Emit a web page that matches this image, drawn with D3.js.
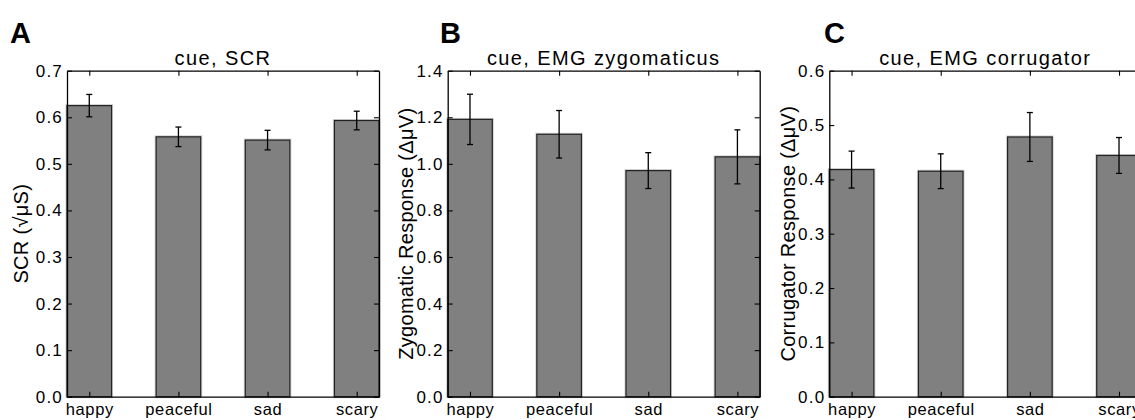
<!DOCTYPE html>
<html><head><meta charset="utf-8">
<script src="https://cdn.jsdelivr.net/npm/d3@7"></script>
<style>
html,body{margin:0;padding:0;background:#fff;overflow:hidden}
svg{display:block;font-family:"Liberation Sans",Arial,Helvetica,sans-serif}
</style></head>
<body>
<script>
// ---- data ----
const categories = ["happy", "peaceful", "sad", "scary"];
const scrMean = [0.625, 0.558, 0.551, 0.593];
const scrErr  = [0.024, 0.021, 0.021, 0.020];
const zygMean = [1.191, 1.127, 0.971, 1.030];
const zygErr  = [0.108, 0.102, 0.077, 0.116];
const corMean = [0.418, 0.415, 0.478, 0.444];
const corErr  = [0.034, 0.032, 0.045, 0.033];
const scrTicks = [0.0, 0.1, 0.2, 0.3, 0.4, 0.5, 0.6, 0.7];
const zygTicks = [0.0, 0.2, 0.4, 0.6, 0.8, 1.0, 1.2, 1.4];
const corTicks = [0.0, 0.1, 0.2, 0.3, 0.4, 0.5, 0.6];
const panelLetters = ["A", "B", "C"];
const titles = ["cue, SCR", "cue, EMG zygomaticus", "cue, EMG corrugator"];
const yLabels = ["SCR (\u221A\u03BCS)", "Zygomatic Response (\u0394\u03BCV)", "Corrugator Response (\u0394\u03BCV)"];

const panels = [
  {letter: panelLetters[0], title: titles[0], ylabel: yLabels[0], mean: scrMean, err: scrErr, ticks: scrTicks, ymax: 0.7, left: 67, labOff: 39, letterX: 10},
  {letter: panelLetters[1], title: titles[1], ylabel: yLabels[1], mean: zygMean, err: zygErr, ticks: zygTicks, ymax: 1.4, left: 447.7, labOff: 34.5, letterX: 440},
  {letter: panelLetters[2], title: titles[2], ylabel: yLabels[2], mean: corMean, err: corErr, ticks: corTicks, ymax: 0.6, left: 829.3, labOff: 34.5, letterX: 824}
];

const W = 1135, H = 420;
const plotTop = 70.7, plotBottom = 396.7, plotW = 312;
const svg = d3.select("body").append("svg").attr("width", W).attr("height", H);

panels.forEach(p => {
  const g = svg.append("g");
  const x = d3.scaleLinear().domain([0.75, 4.25]).range([p.left, p.left + plotW]);
  const y = d3.scaleLinear().domain([0, p.ymax]).range([plotBottom, plotTop]);
  const bw = x(1.5) - x(1);

  // bar halos
  g.selectAll("rect.halo").data(p.mean).join("rect").attr("class", "halo")
    .attr("x", (d, i) => x(i + 1) - bw / 2).attr("y", d => y(d))
    .attr("width", bw).attr("height", d => plotBottom - y(d))
    .attr("fill", "none").attr("stroke", "#cfcfcf").attr("stroke-width", 3);
  // bars
  g.selectAll("rect.bar").data(p.mean).join("rect").attr("class", "bar")
    .attr("x", (d, i) => x(i + 1) - bw / 2).attr("y", d => y(d))
    .attr("width", bw).attr("height", d => plotBottom - y(d))
    .attr("fill", "#808080").attr("stroke", "#222").attr("stroke-width", 1.2);

  // error bars
  const eb = g.selectAll("g.eb").data(p.mean).join("g").attr("class", "eb")
    .attr("stroke", "#000").attr("stroke-width", 1.3);
  eb.append("line").attr("x1", (d, i) => x(i + 1)).attr("x2", (d, i) => x(i + 1))
    .attr("y1", (d, i) => y(d + p.err[i])).attr("y2", (d, i) => y(d - p.err[i]));
  eb.append("line").attr("x1", (d, i) => x(i + 1) - 3).attr("x2", (d, i) => x(i + 1) + 3)
    .attr("y1", (d, i) => y(d + p.err[i])).attr("y2", (d, i) => y(d + p.err[i]));
  eb.append("line").attr("x1", (d, i) => x(i + 1) - 3).attr("x2", (d, i) => x(i + 1) + 3)
    .attr("y1", (d, i) => y(d - p.err[i])).attr("y2", (d, i) => y(d - p.err[i]));

  // axes (inward ticks)
  const yAxisL = d3.axisLeft(y).tickValues(p.ticks).tickSizeInner(-5).tickSizeOuter(0).tickPadding(4).tickFormat(d3.format(".1f"));
  const gl = g.append("g").attr("transform", `translate(${p.left},0)`).call(yAxisL);
  gl.selectAll("text").style("font-size", "17px").attr("fill", "#000").style("letter-spacing", "1.2px").style("font-family", "Liberation Sans, Arial, sans-serif");
  const yAxisR = d3.axisRight(y).tickValues(p.ticks).tickSizeInner(-5).tickSizeOuter(0).tickFormat("");
  g.append("g").attr("transform", `translate(${p.left + plotW},0)`).call(yAxisR);
  const xAxisB = d3.axisBottom(x).tickValues([1, 2, 3, 4]).tickSizeInner(-5).tickSizeOuter(0).tickPadding(7)
    .tickFormat(d => categories[d - 1]);
  const gb = g.append("g").attr("transform", `translate(0,${plotBottom})`).call(xAxisB);
  gb.selectAll("text").style("font-size", "16.5px").attr("fill", "#000").style("letter-spacing", "0.6px").style("font-family", "Liberation Sans, Arial, sans-serif");
  const xAxisT = d3.axisTop(x).tickValues([1, 2, 3, 4]).tickSizeInner(-5).tickSizeOuter(0).tickFormat("");
  g.append("g").attr("transform", `translate(0,${plotTop})`).call(xAxisT);
  g.selectAll(".domain").attr("stroke", "#000").attr("stroke-width", 1.3);
  g.selectAll(".tick line").attr("stroke", "#000").attr("stroke-width", 1.1);

  // title
  g.append("text").attr("x", p.left + plotW / 2).attr("y", 65).attr("text-anchor", "middle")
    .style("font-size", "20px").style("letter-spacing", "1.4px").text(p.title);
  // y label
  g.append("text").attr("transform", `translate(${p.left - p.labOff},${(plotTop + plotBottom) / 2}) rotate(-90)`)
    .attr("text-anchor", "middle").style("font-size", "20px").style("letter-spacing", "0.3px").text(p.ylabel);
  // panel letter
  g.append("text").attr("x", p.letterX).attr("y", 43).style("font-size", "29px").attr("font-weight", "bold").text(p.letter);
});
</script>
</body></html>
